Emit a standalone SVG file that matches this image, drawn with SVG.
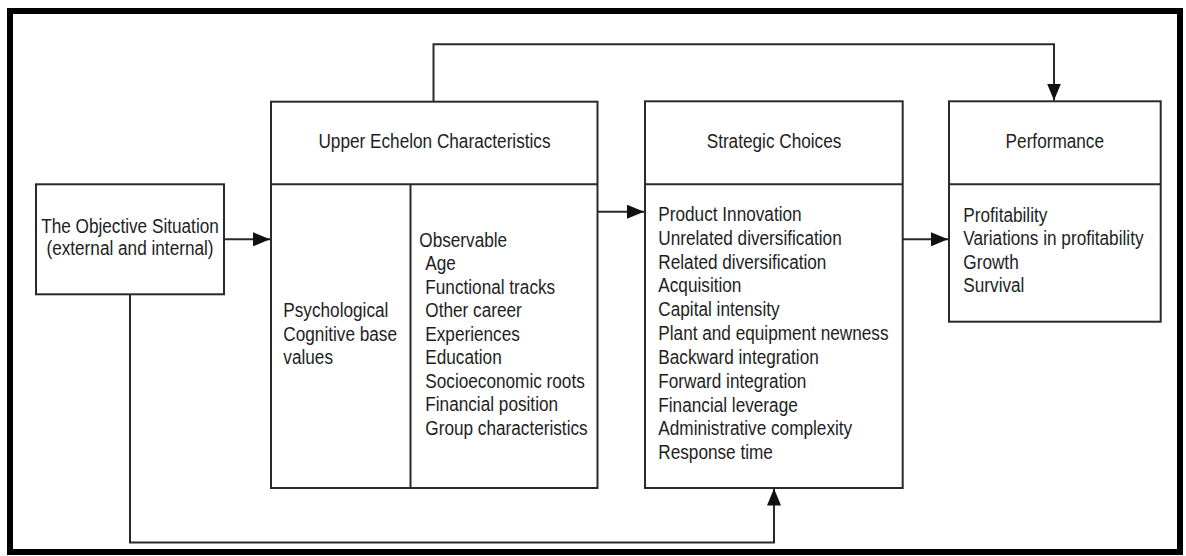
<svg xmlns="http://www.w3.org/2000/svg" width="1186" height="556" viewBox="0 0 1186 556">
<style>
.frame{fill:none;stroke:#000;stroke-width:6}
.box{fill:#fff;stroke:#2a2a2a;stroke-width:2}
.ln{fill:none;stroke:#2a2a2a;stroke-width:2}
.t{font-family:"Liberation Sans",Arial,Helvetica,sans-serif;font-size:17.2px;fill:#1e1e1e}
.c{text-anchor:middle}
</style>
<defs>
<marker id="ah" markerUnits="userSpaceOnUse" markerWidth="18" markerHeight="14" refX="17" refY="7" orient="auto">
<path d="M0,0 L17,7 L0,14 Z" fill="#111"/>
</marker>
</defs>
<rect width="1186" height="556" fill="#fff"/>
<rect class="frame" x="10" y="11" width="1170" height="541"/>

<g id="objective">
<rect class="box" x="36" y="184.3" width="188" height="110"/>
<text class="t c" transform="translate(130,232.7) scale(1,1.16)"><tspan x="0" y="0">The Objective Situation</tspan><tspan x="0" dy="18.97">(external and internal)</tspan></text>
</g>

<g id="upper-echelon">
<rect class="box" x="271" y="101.7" width="326.5" height="386.3"/>
<line class="ln" x1="271" y1="184.3" x2="597.5" y2="184.3"/>
<line class="ln" x1="410.5" y1="184.3" x2="410.5" y2="488"/>
<text class="t c" transform="translate(434.5,148.3) scale(1,1.16)">Upper Echelon Characteristics</text>
<text class="t" transform="translate(283.3,317.2) scale(1,1.16)"><tspan x="0" y="0">Psychological</tspan><tspan x="0" dy="20.26">Cognitive base</tspan><tspan x="0" dy="20.26">values</tspan></text>
<text class="t" transform="translate(419.3,246.7) scale(1,1.16)"><tspan x="0" y="0">Observable</tspan><tspan x="6" dy="20.26">Age</tspan><tspan x="6" dy="20.26">Functional tracks</tspan><tspan x="6" dy="20.26">Other career</tspan><tspan x="6" dy="20.26">Experiences</tspan><tspan x="6" dy="20.26">Education</tspan><tspan x="6" dy="20.26">Socioeconomic roots</tspan><tspan x="6" dy="20.26">Financial position</tspan><tspan x="6" dy="20.26">Group characteristics</tspan></text>
</g>

<g id="strategic-choices">
<rect class="box" x="645" y="101.3" width="257.7" height="386.7"/>
<line class="ln" x1="645" y1="184.3" x2="902.7" y2="184.3"/>
<text class="t c" transform="translate(774,148.3) scale(1,1.16)">Strategic Choices</text>
<text class="t" transform="translate(658.3,221) scale(1,1.16)"><tspan x="0" y="0">Product Innovation</tspan><tspan x="0" dy="20.54">Unrelated diversification</tspan><tspan x="0" dy="20.54">Related diversification</tspan><tspan x="0" dy="20.54">Acquisition</tspan><tspan x="0" dy="20.54">Capital intensity</tspan><tspan x="0" dy="20.54">Plant and equipment newness</tspan><tspan x="0" dy="20.54">Backward integration</tspan><tspan x="0" dy="20.54">Forward integration</tspan><tspan x="0" dy="20.54">Financial leverage</tspan><tspan x="0" dy="20.54">Administrative complexity</tspan><tspan x="0" dy="20.54">Response time</tspan></text>
</g>

<g id="performance">
<rect class="box" x="949" y="101.3" width="211.7" height="220.4"/>
<line class="ln" x1="949" y1="184.3" x2="1160.7" y2="184.3"/>
<text class="t c" transform="translate(1054.8,148.3) scale(1,1.16)">Performance</text>
<text class="t" transform="translate(963.3,222) scale(1,1.16)"><tspan x="0" y="0">Profitability</tspan><tspan x="0" dy="20.09">Variations in profitability</tspan><tspan x="0" dy="20.09">Growth</tspan><tspan x="0" dy="20.09">Survival</tspan></text>
</g>

<g id="connectors">
<line class="ln" x1="224" y1="239.3" x2="270" y2="239.3" marker-end="url(#ah)"/>
<line class="ln" x1="597.5" y1="211.7" x2="644" y2="211.7" marker-end="url(#ah)"/>
<line class="ln" x1="902.7" y1="239.3" x2="948" y2="239.3" marker-end="url(#ah)"/>
<polyline class="ln" points="433.5,101.7 433.5,44.3 1054,44.3 1054,100.5" marker-end="url(#ah)"/>
<polyline class="ln" points="130,294.3 130,542.5 774,542.5 774,488.5" marker-end="url(#ah)"/>
</g>
</svg>
